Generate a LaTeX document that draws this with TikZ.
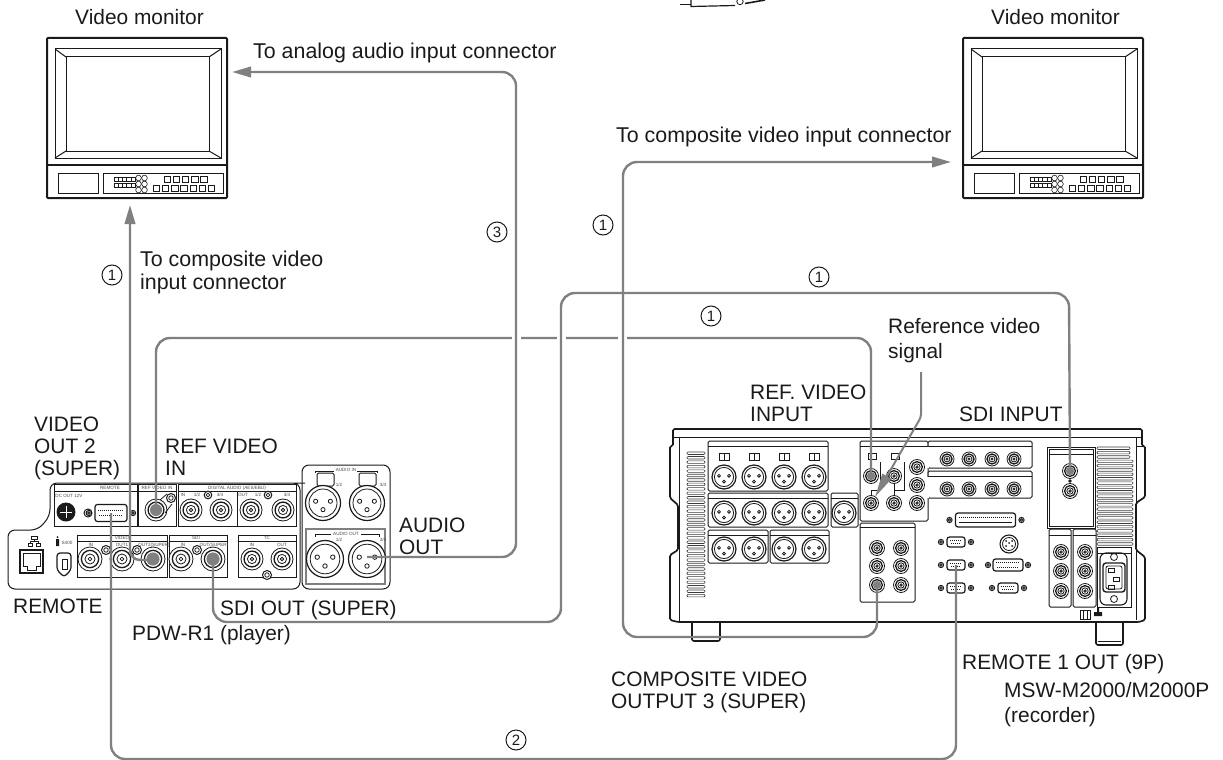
\documentclass[tikz,border=0pt]{standalone}
\usepackage{fontspec}
\setmainfont{Liberation Sans}
\usetikzlibrary{arrows.meta}
\definecolor{cablegray}{HTML}{808080}
\definecolor{ink}{HTML}{1A1A1A}
\tikzset{
  cable/.style={draw=cablegray,line width=2.4pt,rounded corners=14pt},
  headtip/.style={-{Triangle[length=19pt,width=10.5pt]}},
  gapmark/.style={draw=white,line width=5pt},
  devline/.style={draw=ink,line width=0.8pt},
  heavy/.style={draw=ink,line width=1.8pt},
  lbl/.style={font=\fontsize{20.9}{22}\selectfont,text=ink,anchor=base west,inner sep=0pt,align=left},
  lblwide/.style={lbl,font=\fontsize{21.4}{22}\selectfont},
  tiny/.style={font=\fontsize{4.6}{5}\selectfont,text=ink!80,inner sep=0pt},
  callout/.style={circle,draw=ink,line width=1pt,inner sep=0pt,minimum size=20pt,font=\fontsize{15}{15}\selectfont,text=ink},
}
\newcommand{\bncx}[3]{%
  \draw[devline,fill=white] (#1,#2) circle[radius=#3];
  \draw[draw=ink,line width=1.3pt] (#1,#2) circle[radius=#3*0.72];
  \draw[devline] (#1,#2) circle[radius=#3*0.42];
  \draw[devline] (#1,#2) circle[radius=#3*0.16];}
\newcommand{\bncg}[3]{%
  \bncx{#1}{#2}{#3}
  \fill[cablegray] (#1,#2) circle[radius=#3*0.55];}
\newcommand{\nutx}[3]{%
  \draw[draw=ink,line width=1pt,fill=white] (#1,#2) circle[radius=#3];
  \draw[devline] (#1,#2) circle[radius=#3*0.5];}
\newcommand{\xlrx}[3]{%
  \draw[draw=ink,line width=1.2pt,fill=white] (#1,#2) circle[radius=#3];
  \draw[devline] (#1,#2) circle[radius=#3*0.8];
  \draw[devline,fill=white] ({#1-#3*0.42},{#2-#3*0.1}) circle[radius=#3*0.12];
  \draw[devline,fill=white] ({#1+#3*0.42},{#2-#3*0.1}) circle[radius=#3*0.12];
  \draw[devline,fill=white] (#1,{#2+#3*0.38}) circle[radius=#3*0.12];}
\newcommand{\dsubx}[5]{% cx cy halfw halfh screwoffset
  \draw[draw=ink,line width=1.2pt,fill=white,rounded corners=2.5pt] ({#1-#3},{#2-#4}) rectangle ({#1+#3},{#2+#4});
  \draw[ink,line width=1pt,dash pattern=on 1pt off 1pt] ({#1-#3+3},{#2-#4*0.35}) -- ({#1+#3-3},{#2-#4*0.35});
  \draw[ink,line width=1pt,dash pattern=on 1pt off 1pt] ({#1-#3+4},{#2+#4*0.35}) -- ({#1+#3-4},{#2+#4*0.35});
  \nutx{#1-#5}{#2}{2.6}
  \nutx{#1+#5}{#2}{2.6}}
\newcommand{\panelx}[5]{% x1 y1 x2 y2 titley
  \draw[draw=ink,line width=1pt,rounded corners=1.5pt,fill=white] (#1,#2) rectangle (#3,#4);
  \draw[devline] (#1,#5) -- (#3,#5);}
\newcommand{\monitorx}[1]{%
  \begin{scope}[xshift=#1pt]
  \draw[draw=ink,line width=2pt,rounded corners=1pt] (47,38) rectangle (227,198);
  \draw[devline,line width=1pt] (55,49) rectangle (221,158);
  \draw[devline,line width=1pt] (66,57) rectangle (209,151);
  \draw[devline,line width=1pt] (55,49) -- (66,57) (221,49) -- (209,57) (55,158) -- (66,151) (221,158) -- (209,151);
  \draw[devline,line width=1.1pt] (47,165) -- (227,165);
  \draw[devline] (58,173) rectangle (98,193);
  \draw[devline] (103,173) rectangle (223,193);
  \foreach \i in {0,...,4} {
    \draw[draw=ink,line width=0.6pt] ({114+\i*4.2},177) rectangle ++(4.2,4.5);
    \draw[draw=ink,line width=0.6pt] ({114+\i*4.2},183) rectangle ++(4.2,4.5);}
  \foreach \i in {0,1} \foreach \j in {0,1,2}
    \draw[draw=ink,line width=0.6pt] ({138.5+\i*6},{178+\j*6}) circle[radius=2.8];
  \foreach \i in {0,...,4}
    \draw[draw=ink,line width=0.6pt] ({164+\i*9.1},176) rectangle ++(6.5,6.5);
  \foreach \i in {0,...,6}
    \draw[draw=ink,line width=0.6pt] ({153+\i*9.2},185) rectangle ++(6.5,6);
  \end{scope}}
\begin{document}
\begin{tikzpicture}[x=1pt,y=-1pt]
\useasboundingbox (0,0) rectangle (1223,760);

% ---- remnant at the top edge
\draw[draw=ink,line width=1.2pt] (680,4.5) -- (691,4.5);
\draw[draw=ink,line width=1.2pt] (691,0) -- (691,6.5) -- (735,5.5);
\draw[draw=ink,line width=1.6pt] (745,3.5) -- (765,0);
\draw[devline] (740,1.5) circle[radius=3.2];

% ---- monitors
\monitorx{0}
\monitorx{916}

% ---- player (PDW-R1)
\draw[draw=ink,line width=1pt,rounded corners=7pt]
  (298,483) -- (300,483) -- (300,589) -- (8,589) -- (8,530) -- (38,530) -- (50,516) -- (50,483) -- cycle;
\draw[draw=ink,line width=1pt,rounded corners=7pt] (302,465) rectangle (390,589);
\draw[devline] (54,484) rectangle (137,526);
\draw[devline] (54,491) -- (137,491);
\draw[devline] (138,484) rectangle (176,526);
\draw[devline] (138,491) -- (176,491);
\draw[devline] (178,484) rectangle (296,526);
\draw[devline] (178,491) -- (296,491);
\draw[devline] (237,491) -- (237,526);
\draw[devline] (77,535) rectangle (167,577);
\draw[devline] (77,541) -- (167,541);
\draw[devline] (169,535) rectangle (227,577);
\draw[devline] (169,541) -- (227,541);
\draw[devline] (238,535) rectangle (296,577);
\draw[devline] (238,541) -- (296,541);
\node[tiny] (t1) at (110,488) {REMOTE};
\node[tiny] (t2) at (157,488) {REF VIDEO IN};
\node[tiny] (t3) at (237,488) {DIGITAL AUDIO (AES/EBU)};
\node[tiny] (t4) at (69,496) {DC OUT 12V};
\node[tiny] (t5) at (122,538) {VIDEO};
\node[tiny] (t6) at (196,538) {SDI};
\node[tiny] (t7) at (267,538) {TC};
\node[tiny] (t8) at (91,545) {IN};
\node[tiny] (t9) at (122,545) {OUT1};
\node[tiny] (t10) at (154,545) {OUT2(SUPER)};
\node[tiny] (t11) at (183,545) {IN};
\node[tiny] (t12) at (214,545) {OUT(SUPER)};
\node[tiny] (t13) at (252,545) {IN};
\node[tiny] (t14) at (282,545) {OUT};
\node[tiny] (t15) at (183,495) {IN};
\node[tiny] (t16) at (197,495) {1/2};
\node[tiny] (t17) at (220,495) {3/4};
\node[tiny] (t18) at (243,495) {OUT};
\node[tiny] (t19) at (258,495) {1/2};
\node[tiny] (t20) at (287,495) {3/4};
\node[tiny] (t21) at (67,543) {S400};
\fill[ink] (66,512) circle[radius=9.5];
\draw[white,line width=0.7pt] (60,512) -- (72,512) (66,506) -- (66,518);
\nutx{88}{513}{4}
\dsubx{111}{513}{16}{8.5}{22}
\bncg{156}{510}{11}
\nutx{171}{498}{4.5}
\draw[devline] (160,500) -- (167,494) (172,504) -- (165,513);
\bncx{191}{510}{11}
\bncx{221}{510}{11}
\nutx{208}{495}{3.8}
\bncx{251}{510}{11}
\bncx{283}{510}{11}
\nutx{268}{495}{3.8}
\bncx{90}{559}{12}
\bncx{122}{559}{12}
\bncg{153}{559}{12}
\nutx{106}{550}{4.5}
\nutx{137}{550}{4.5}
\bncx{181}{559}{12}
\bncg{213}{559}{12}
\nutx{197}{550}{4.5}
\bncx{252}{559}{11}
\bncx{282}{559}{11}
\nutx{267}{575}{4.5}
% ethernet + firewire
\draw[draw=ink,line width=1.5pt] (20,550) rectangle (43,573);
\draw[draw=ink,line width=1pt] (23,553) -- (40,553) -- (40,566) -- (36,566) -- (36,570) -- (27,570) -- (27,566) -- (23,566) -- cycle;
\draw[devline] (31,536) rectangle (37,539) (28,543) rectangle (32,546) (36,543) rectangle (40,546);
\draw[devline] (34,539) -- (34,541.5) (30,543) -- (30,541.5) -- (38,541.5) -- (38,543);
\draw[draw=ink,line width=1.2pt,rounded corners=3pt] (57,553) -- (71,553) -- (71,570) -- (64,577) -- (57,570) -- cycle;
\draw[devline] (62,559) rectangle (67,569);
\fill[ink] (57.5,537) circle[radius=1] (56,539) rectangle (59,546);
% audio panel
\draw[draw=cablegray,line width=2pt] (306,529) rectangle (385,584);
\node[tiny] (t22) at (346,470) {AUDIO IN};
\node[tiny] (t23) at (346,534) {AUDIO OUT};
\draw[devline] (315,473) -- (315,471) -- (334,471) (357,471) -- (377,471) -- (377,473);
\draw[devline] (315,537) -- (315,534.5) -- (331,534.5) (361,534.5) -- (379,534.5) -- (379,537);
\draw[draw=ink,line width=1pt,rounded corners=1.5pt] (317,473) rectangle (334,486);
\draw[draw=ink,line width=1pt,rounded corners=1.5pt] (359,473) rectangle (376,486);
\xlrx{323}{503}{17.5}
\xlrx{367}{503}{17.5}
\xlrx{325}{559}{18.5}
\xlrx{367}{559}{18.5}
\node[tiny] (t24) at (339,485) {1/2};
\node[tiny] (t25) at (383,485) {3/4};
\node[tiny] (t26) at (339,540) {1/2};
\node[tiny] (t27) at (383,540) {3/4};

% ---- recorder (MSW-M2000)
\draw[draw=ink,line width=1.7pt,rounded corners=1.5pt]
  (670,620) -- (670,555) -- (678,550) -- (678,505) -- (670,498) -- (670,446) -- (673,446) -- (673,429)
  -- (1142,429) -- (1142,446) -- (1145,446) -- (1145,497) -- (1136,503) -- (1136,550) -- (1145,557) -- (1145,620) -- (1139,622) -- (678,622) -- cycle;
\draw[draw=ink,line width=0.9pt] (673,437) -- (1142,437);
\draw[draw=ink,line width=0.9pt] (679,437) -- (679,622);
\draw[draw=ink,line width=0.9pt] (1136,446) -- (1145,446);
\draw[draw=ink,line width=0.9pt] (1136,437) -- (1136,620);
\draw[draw=ink,line width=1.6pt,rounded corners=2pt] (692,623) -- (692,641) -- (720,641) -- (720,623);
\draw[draw=ink,line width=1.6pt,rounded corners=2pt] (1096,623) -- (1096,645) -- (1123,645) -- (1123,623);
\draw[draw=ink,line width=0.6pt] (1098,641) -- (1121,641);
\foreach \i in {0,...,32}
  \draw[draw=ink!85,line width=0.6pt,rounded corners=1pt] (687,{452+\i*4.45}) rectangle (705,{454.5+\i*4.45});
\foreach \i in {0,...,22}
  \draw[draw=ink!85,line width=0.6pt,rounded corners=1pt] (1097,{447+\i*4.35}) rectangle ({\i<3?1130:1133},{449.5+\i*4.35});
% xlr panels
\panelx{708}{441}{828}{491}{446}
\panelx{708}{493}{828}{527}{498}
\panelx{831}{493}{858}{527}{498}
\panelx{708}{530}{768}{563}{535}
\panelx{770}{530}{829}{563}{535}
\foreach \x in {724,754,784,814} {
  \xlrx{\x}{477}{12}
  \xlrx{\x}{513}{12}
  \xlrx{\x}{549}{12}
  \draw[draw=ink,line width=0.9pt] ({\x-5},453) rectangle ({\x+5},460);
  \draw[draw=ink,line width=0.8pt] (\x,453) -- (\x,460);
}
\xlrx{844}{513}{12}
% bnc panel
\panelx{860}{441}{928}{521}{446}
\draw[draw=ink,line width=0.9pt] (868,453) rectangle (876,459);
\draw[draw=ink,line width=0.9pt] (891,453) rectangle (899,459);
\draw[devline] (880,462) -- (880,490) (904,462) -- (904,490) -- (894,490) (871,490) -- (880,490) (871,490) -- (871,498) (894,484) -- (894,497);
\bncx{894}{476}{7.5}
\bncx{917}{467}{7.5}
\bncx{917}{485}{7.5}
\bncx{917}{503}{7.5}
\bncx{871}{503}{7.5}
\bncx{894}{503}{7.5}
\bncg{871}{476}{7.5}
% composite panel
\panelx{860}{523}{915}{602}{527}
\bncx{877}{548}{7.5}
\bncx{901}{548}{7.5}
\bncx{877}{566}{7.5}
\bncx{901}{566}{7.5}
\bncg{877}{585}{7.5}
\bncx{901}{585}{7.5}
% SDI / other
\panelx{928}{441}{1032}{468}{446}
\panelx{928}{471}{1032}{498}{476}
\draw[white,line width=2pt] (928,446.5) -- (928,467.5) (928,476.5) -- (928,497.5);
\foreach \x in {947,969,992,1014} {
  \bncx{\x}{459}{7}
  \bncx{\x}{489}{7}
}
\draw[draw=ink,line width=1pt] (1047,447) rectangle (1095,528);
\draw[devline] (1049,449) rectangle (1093,526);
\draw[devline] (1049,454) -- (1093,454);
\bncg{1070}{471}{7.5}
\bncx{1070}{491}{7.5}
\fill[ink] (1070,481) circle[radius=1.8];
\panelx{1049}{529}{1071}{607}{535}
\panelx{1073}{529}{1096}{607}{535}
\foreach \y in {552,571,591} {
  \bncx{1061}{\y}{7.5}
  \bncx{1085}{\y}{7.5}
}
\draw[devline] (1097,547) rectangle (1131,607);
\draw[devline] (1097,553) -- (1131,553);
\draw[draw=ink,line width=1.1pt,rounded corners=6pt] (1100,553) rectangle (1127,605);
\draw[draw=ink,line width=1.4pt,rounded corners=3pt,fill=white] (1103,563) rectangle (1125,592);
\draw[devline,rounded corners=2pt] (1106,566) rectangle (1122,589);
\draw[draw=ink,line width=1pt] (1108,568) rectangle (1114,572) (1113,577) rectangle (1119,581) (1108,585) rectangle (1114,589);
\draw[devline] (1114,557) circle[radius=3.5] (1114,599) circle[radius=3.5];
\dsubx{985.5}{520}{30}{7}{36}
\foreach \i in {0,1} \draw[ink,line width=1pt,dash pattern=on 1pt off 1pt] (959,{517.5+\i*5}) -- (1012,{517.5+\i*5});
\dsubx{956}{542}{9}{5}{15}
\dsubx{956}{565}{9}{5}{15}
\dsubx{956}{588}{9}{5}{15}
\dsubx{1008}{565}{15}{6}{20}
\dsubx{1008}{588}{10}{5}{16}
\draw[draw=ink,line width=1.1pt] (1009,544) circle[radius=9];
\draw[devline] (1009,544) circle[radius=6.5];
\fill[ink] (1006,541) circle[radius=1] (1012,541) circle[radius=1] (1006,546) circle[radius=1] (1012,546) circle[radius=1] (1009,543) circle[radius=1];
\draw[draw=ink,line width=1pt] (1080,610) rectangle (1090,619);
\draw[ink,line width=1pt] (1083,610) -- (1083,619) (1087,610) -- (1087,619);
\fill[ink] (1097,608) rectangle (1099,612) (1094,612) rectangle (1102,616);

% ---- connector end points
\coordinate (remoteP) at (111,513);
\coordinate (recRemote) at (956,565);
\coordinate (refP) at (156,510);
\coordinate (refR) at (871,476);
\coordinate (sdiP) at (213,559);
\coordinate (sdiR) at (1070,471);
\coordinate (videoP) at (153,560);
\coordinate (monA) at (130,205);
\coordinate (audioP) at (367,557);
\coordinate (monB) at (232,72);
\coordinate (compR) at (877,585);
\coordinate (monC) at (951,162);
\coordinate (refNote) at (921,372);
\coordinate (refBend) at (921,417);
\coordinate (refTip) at (875,497);
\coordinate (gapA) at (512,338);
\coordinate (gapB) at (521,338);
\coordinate (gapC) at (557,338);
\coordinate (gapD) at (566,338);
\coordinate (gapE) at (618,338);
\coordinate (gapF) at (627,338);

% ---- cables
\draw[cable] (refP) -- (156,338) -- (refR |- 0,338) -- (refR);
\draw[gapmark] (gapA) -- (gapB);
\draw[gapmark] (gapC) -- (gapD);
\draw[gapmark] (gapE) -- (gapF);
\draw[cable] (sdiP) -- (213,622) -- (561,622) -- (561,293) -- (1069,293) -- (sdiR);
\draw[cable,rounded corners=10pt,headtip] (videoP) -- (130,560) -- (monA);
\draw[cable,headtip] (audioP) -- (516,557) -- (516,72) -- (monB);
\draw[cable,headtip] (compR) -- (877,637) -- (623,637) -- (623,162) -- (monC);
\draw[cable] (remoteP) -- (111,759) -- (956,759) -- (recRemote);
\draw[draw=cablegray,line width=2pt,rounded corners=3pt,-{Triangle[length=24pt,width=10pt]}] (refNote) -- (refBend) -- (refTip);

% ---- labels (a stacked label is placed by its last baseline)
\node[lbl] (l1) at (75,25) {Video monitor};
\node[lbl] (l2) at (991,25) {Video monitor};
\node[lblwide] (l3) at (253,59) {To analog audio input connector};
\node[lblwide] (l4) at (616,142) {To composite video input connector};
\node[lblwide] (l5) at (140,289) {To composite video\\[1pt]input connector};
\node[lbl] (l6) at (888,358) {Reference video\\[3pt]signal};
\node[lbl] (l7) at (750,421) {REF. VIDEO\\INPUT};
\node[lbl] (l8) at (959,421) {SDI INPUT};
\node[lbl] (l9) at (34,475) {VIDEO\\OUT 2\\(SUPER)};
\node[lbl] (l10) at (165,475) {REF VIDEO\\IN};
\node[lbl] (l11) at (399,554) {AUDIO\\OUT};
\node[lbl] (l12) at (13,613) {REMOTE};
\node[lbl] (l13) at (220,615) {SDI OUT (SUPER)};
\node[lbl] (l14) at (132,640) {PDW-R1 (player)};
\node[lbl] (l15) at (962,669) {REMOTE 1 OUT (9P)};
\node[lbl] (l16) at (1004,722) {MSW-M2000/M2000P\\[3pt](recorder)};
\node[lbl] (l17) at (611,708) {COMPOSITE VIDEO\\OUTPUT 3 (SUPER)};

\node[callout] (c1) at (112,275) {1};
\node[callout] (c2) at (497,232) {3};
\node[callout] (c3) at (603,225) {1};
\node[callout] (c4) at (819,277) {1};
\node[callout] (c5) at (711,316) {1};
\node[callout] (c6) at (516,740) {2};
\end{tikzpicture}
\end{document}
